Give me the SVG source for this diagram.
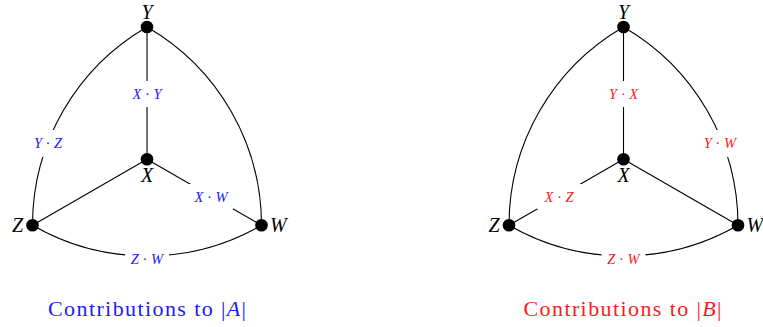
<svg xmlns="http://www.w3.org/2000/svg" width="763" height="327" viewBox="0 0 763 327">
<style>
.e{fill:none;stroke:#000;stroke-width:1.1}
.bg{fill:#fff}
.n{fill:#000}
.nl{font-family:"Liberation Serif",serif;font-style:italic;font-size:20px;fill:#000}
.lb{font-family:"Liberation Serif",serif;font-size:14.5px;text-anchor:middle}
.lb .v{font-style:italic}
.blue{fill:#1a1aff}
.red{fill:#ff1a1a}
.cap{font-family:"Liberation Serif",serif;font-size:22px;text-anchor:middle}
.cap .v{font-style:italic}
</style>
<g id="connectors">
<path class="e" d="M147,27 L147,159.2 M147,159.2 L32.5,225.3 M147,159.2 L261.5,225.3 M147,27 A229,229 0 0 0 32.5,225.3 M147,27 A229,229 0 0 1 261.5,225.3 M32.5,225.3 A229,229 0 0 0 261.5,225.3"/>
<path class="e" d="M623.5,27 L623.5,159.2 M623.5,159.2 L509,225.3 M623.5,159.2 L738,225.3 M623.5,27 A229,229 0 0 0 509,225.3 M623.5,27 A229,229 0 0 1 738,225.3 M509,225.3 A229,229 0 0 0 738,225.3"/>
</g>
<g id="edge-labels-A">
<rect class="bg" x="125" y="81" width="44" height="26"/>
<text class="lb blue" x="147" y="99"><tspan class="v">X</tspan> · <tspan class="v">Y</tspan></text>
<rect class="bg" x="26" y="130" width="44" height="27"/>
<text class="lb blue" x="48" y="148"><tspan class="v">Y</tspan> · <tspan class="v">Z</tspan></text>
<rect class="bg" x="189" y="184" width="44" height="25"/>
<text class="lb blue" x="211" y="201.5"><tspan class="v">X</tspan> · <tspan class="v">W</tspan></text>
<rect class="bg" x="125" y="246" width="44" height="26"/>
<text class="lb blue" x="147" y="264"><tspan class="v">Z</tspan> · <tspan class="v">W</tspan></text>
</g>
<g id="edge-labels-B">
<rect class="bg" x="601.5" y="81" width="44" height="26"/>
<text class="lb red" x="623.5" y="99"><tspan class="v">Y</tspan> · <tspan class="v">X</tspan></text>
<rect class="bg" x="698" y="130" width="44" height="27"/>
<text class="lb red" x="720" y="148"><tspan class="v">Y</tspan> · <tspan class="v">W</tspan></text>
<rect class="bg" x="537" y="184" width="44" height="25"/>
<text class="lb red" x="559" y="201.5"><tspan class="v">X</tspan> · <tspan class="v">Z</tspan></text>
<rect class="bg" x="601.5" y="246" width="44" height="26"/>
<text class="lb red" x="623.5" y="264"><tspan class="v">Z</tspan> · <tspan class="v">W</tspan></text>
</g>
<g id="node-Y-A"><circle class="n" cx="147" cy="27" r="6.3"/><text class="nl" x="147" y="19" text-anchor="middle">Y</text></g>
<g id="node-X-A"><circle class="n" cx="147" cy="159.2" r="6.3"/><text class="nl" x="147" y="182" text-anchor="middle">X</text></g>
<g id="node-Z-A"><circle class="n" cx="32.5" cy="225.3" r="6.3"/><text class="nl" x="23" y="232" text-anchor="end">Z</text></g>
<g id="node-W-A"><circle class="n" cx="261.5" cy="225.3" r="6.3"/><text class="nl" x="270" y="232">W</text></g>
<g id="node-Y-B"><circle class="n" cx="623.5" cy="27" r="6.3"/><text class="nl" x="623.5" y="19" text-anchor="middle">Y</text></g>
<g id="node-X-B"><circle class="n" cx="623.5" cy="159.2" r="6.3"/><text class="nl" x="623.5" y="182" text-anchor="middle">X</text></g>
<g id="node-Z-B"><circle class="n" cx="509" cy="225.3" r="6.3"/><text class="nl" x="499.5" y="232" text-anchor="end">Z</text></g>
<g id="node-W-B"><circle class="n" cx="738" cy="225.3" r="6.3"/><text class="nl" x="746.5" y="232">W</text></g>
<g id="captions">
<text class="cap blue" x="147" y="316" textLength="198" lengthAdjust="spacing">Contributions to |<tspan class="v">A</tspan>|</text>
<text class="cap red" x="622.5" y="316" textLength="198" lengthAdjust="spacing">Contributions to |<tspan class="v">B</tspan>|</text>
</g>
</svg>
